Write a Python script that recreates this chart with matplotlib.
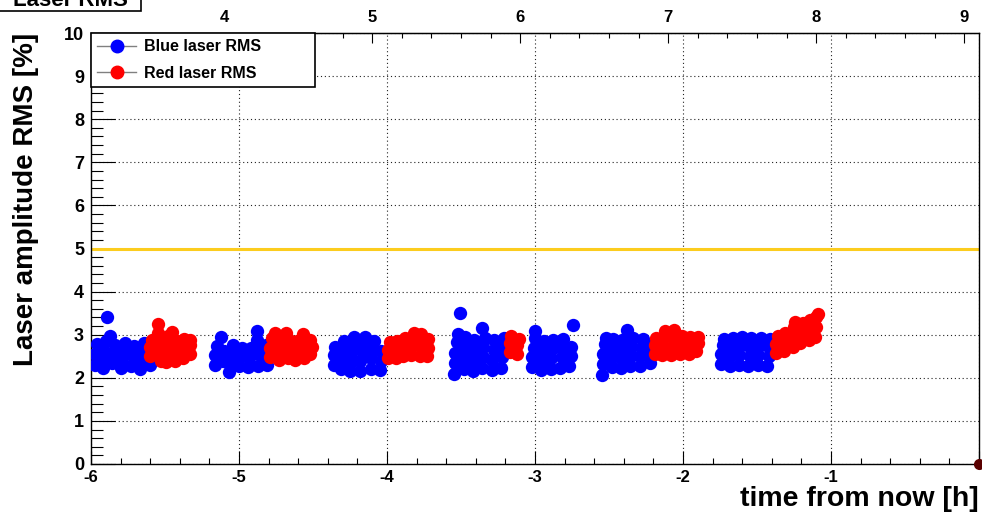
import matplotlib
matplotlib.use("Agg")
import matplotlib.pyplot as plt
from matplotlib.lines import Line2D
from matplotlib.patches import Rectangle
from matplotlib.ticker import MultipleLocator, FixedLocator, FuncFormatter

plt.rcParams['font.family'] = ['Liberation Sans', 'DejaVu Sans']
plt.rcParams['font.weight'] = 'bold'

# time from now [h] and amplitude RMS [%], one line per run
blue_t = [-5.97, -5.97, -5.96, -5.92, -5.91, -5.92, -5.90, -5.89, -5.87, -5.86, -5.85, -5.84, -5.80,
          -5.79, -5.78, -5.77, -5.73, -5.72, -5.71, -5.67, -5.66, -5.65, -5.64, -5.60, -5.60, -5.61,
          -5.16, -5.16, -5.15, -5.12, -5.11, -5.10, -5.07, -5.06, -5.05, -5.04, -5.00, -4.99,
          -4.98, -4.94, -4.93, -4.92, -4.88, -4.88, -4.87, -4.86, -4.86, -4.81, -4.81, -4.82,
          -4.36, -4.36, -4.35, -4.31, -4.30, -4.30, -4.29, -4.25, -4.24, -4.24, -4.23, -4.22,
          -4.18, -4.18, -4.17, -4.16, -4.15, -4.11, -4.11, -4.10, -4.09, -4.05, -4.04, -4.04,
          -3.55, -3.54, -3.54, -3.53, -3.52, -3.51, -3.48, -3.48, -3.47, -3.47, -3.42, -3.42, -3.41,
          -3.41, -3.36, -3.36, -3.35, -3.35, -3.34, -3.29, -3.29, -3.28, -3.28, -3.23, -3.22, -3.22, -3.21,
          -3.02, -3.02, -3.01, -3.00, -3.00, -2.96, -2.95, -2.95, -2.94, -2.89, -2.89,
          -2.88, -2.88, -2.83, -2.82, -2.82, -2.81, -2.77, -2.76, -2.76, -2.74,
          -2.55, -2.54, -2.54, -2.53, -2.52, -2.48, -2.48, -2.47, -2.47, -2.42, -2.42, -2.41, -2.41,
          -2.38, -2.36, -2.35, -2.35, -2.34, -2.29, -2.29, -2.28, -2.27, -2.22, -2.22, -2.21,
          -1.74, -1.74, -1.73, -1.72, -1.68, -1.68, -1.67, -1.66, -1.62, -1.62, -1.61, -1.60,
          -1.56, -1.55, -1.55, -1.54, -1.49, -1.49, -1.48, -1.47, -1.43, -1.42, -1.42, -1.41]
blue_rms = [2.30, 2.55, 2.78, 2.22, 2.45, 2.66, 2.85, 3.40, 2.98, 2.35, 2.58, 2.76, 2.22,
            2.47, 2.68, 2.80, 2.28, 2.52, 2.74, 2.20, 2.42, 2.62, 2.80, 2.30, 2.52, 2.80,
            2.30, 2.52, 2.74, 2.95, 2.40, 2.62, 2.14, 2.35, 2.58, 2.75, 2.28, 2.50,
            2.70, 2.25, 2.46, 2.68, 3.08, 2.88, 2.28, 2.52, 2.70, 2.30, 2.55, 2.75,
            2.30, 2.52, 2.72, 2.20, 2.42, 2.65, 2.85, 2.15, 2.36, 2.58, 2.78, 2.94,
            2.15, 2.40, 2.62, 2.82, 2.95, 2.20, 2.45, 2.68, 2.86, 2.18, 2.40, 2.62,
            2.08, 2.35, 2.58, 2.82, 3.02, 3.50, 2.20, 2.45, 2.70, 2.95, 2.15, 2.40, 2.62,
            2.88, 3.15, 2.22, 2.48, 2.72, 2.92, 2.18, 2.42, 2.65, 2.88, 2.22, 2.48, 2.72, 2.92,
            2.25, 2.48, 2.70, 2.92, 3.08, 2.18, 2.40, 2.62, 2.85, 2.20, 2.45,
            2.68, 2.88, 2.22, 2.48, 2.70, 2.90, 2.28, 2.50, 2.72, 3.22,
            2.06, 2.32, 2.55, 2.78, 2.92, 2.25, 2.48, 2.70, 2.90, 2.22, 2.45, 2.68, 2.88,
            3.10, 2.28, 2.50, 2.72, 2.92, 2.28, 2.50, 2.72, 2.90, 2.35, 2.55, 2.75,
            2.32, 2.55, 2.75, 2.90, 2.28, 2.50, 2.72, 2.92, 2.30, 2.52, 2.75, 2.95,
            2.28, 2.50, 2.72, 2.92, 2.30, 2.52, 2.75, 2.92, 2.28, 2.50, 2.72, 2.90]

red_t = [-5.60, -5.60, -5.59, -5.55, -5.55, -5.54, -5.54, -5.53, -5.49, -5.49, -5.48,
         -5.48, -5.45, -5.43, -5.43, -5.42, -5.38, -5.38, -5.37, -5.33, -5.33, -5.33,
         -4.79, -4.79, -4.78, -4.76, -4.73, -4.73, -4.72, -4.68, -4.67, -4.67,
         -4.66, -4.62, -4.61, -4.61, -4.57, -4.56, -4.56, -4.52, -4.51, -4.52,
         -3.99, -3.99, -3.98, -3.94, -3.94, -3.93, -3.89, -3.88, -3.88, -3.84,
         -3.83, -3.82, -3.82, -3.78, -3.77, -3.77, -3.73, -3.72, -3.72,
         -3.17, -3.17, -3.16, -3.12, -3.12, -3.11,
         -2.19, -2.19, -2.18, -2.14, -2.13, -2.13, -2.12, -2.08, -2.07, -2.07,
         -2.06, -2.02, -2.01, -2.01, -1.96, -1.96, -1.95, -1.91, -1.90, -1.90,
         -1.37, -1.37, -1.36, -1.32, -1.31, -1.31, -1.26, -1.26, -1.25, -1.24,
         -1.21, -1.20, -1.19, -1.15, -1.15, -1.14, -1.11, -1.10, -1.10, -1.09]
red_rms = [2.50, 2.72, 2.88, 3.25, 3.05, 2.85, 2.62, 2.40, 2.36, 2.58, 2.80,
           2.98, 3.07, 2.38, 2.62, 2.85, 2.45, 2.68, 2.90, 2.55, 2.75, 2.88,
           2.48, 2.70, 2.92, 3.04, 2.42, 2.62, 2.85, 3.05, 2.45, 2.68,
           2.88, 2.42, 2.62, 2.85, 3.02, 2.45, 2.70, 2.55, 2.72, 2.88,
           2.45, 2.65, 2.82, 2.45, 2.65, 2.85, 2.50, 2.70, 2.92, 2.52,
           2.75, 3.05, 2.92, 2.50, 2.72, 3.02, 2.50, 2.70, 2.90,
           2.60, 2.80, 2.97, 2.55, 2.75, 2.90,
           2.55, 2.75, 2.92, 2.52, 2.72, 2.95, 3.08, 2.52, 2.72, 2.92,
           3.10, 2.55, 2.75, 2.98, 2.55, 2.75, 2.95, 2.62, 2.80, 2.95,
           2.58, 2.78, 2.98, 2.62, 2.82, 3.05, 2.72, 2.95, 3.18, 3.30,
           2.80, 3.02, 3.28, 2.88, 3.10, 3.35, 2.95, 3.18, 3.42, 3.48]

now_t = [0.0]
now_rms = [0.0]
threshold = 5.0
clock_now = 9.1   # top axis: hour of day
x_ticks = [-6, -5, -4, -3, -2, -1, 0]
y_ticks = list(range(0, 11))

fig = plt.figure(figsize=(9.82, 5.12), dpi=100)
ax = fig.add_axes([91/982, 1 - 464/512, (979 - 91)/982, (464 - 33)/512])

ax.grid(True, which='major', color='#222222', linestyle=(0, (1, 2.5)), linewidth=0.8)
ax.axhline(threshold, color='#fccc1e', linewidth=2.2, zorder=2)

ax.plot(blue_t, blue_rms, 'o', color='blue', ms=9.6, mew=0, zorder=3)
ax.plot(red_t, red_rms, 'o', color='red', ms=9.6, mew=0, zorder=4)
ax.plot(now_t, now_rms, 'o', color='#5a0000', ms=8, mew=0, zorder=5, clip_on=False)

ax.set_xlim(-6, 0)
ax.set_ylim(0, 10)
ax.xaxis.set_major_locator(FixedLocator(x_ticks))
ax.xaxis.set_major_formatter(FuncFormatter(lambda v, p: '' if v == 0 else '%d' % v))
ax.xaxis.set_minor_locator(MultipleLocator(0.2))
ax.yaxis.set_major_locator(FixedLocator(y_ticks))
ax.yaxis.set_minor_locator(MultipleLocator(0.2))

ax.tick_params(axis='x', which='major', direction='in', length=9.5, width=0.8, labelsize=12, pad=4, top=False)
ax.tick_params(axis='x', which='minor', direction='in', length=4.5, width=0.8, top=False)
ax.tick_params(axis='y', which='major', direction='in', length=17, width=0.8, labelsize=13, pad=5, right=False)
ax.tick_params(axis='y', which='minor', direction='in', length=8.5, width=0.8, right=False)
for s in ax.spines.values():
    s.set_linewidth(1.0)

top = ax.secondary_xaxis('top', functions=(lambda x: x + clock_now, lambda x: x - clock_now))
top.xaxis.set_major_locator(MultipleLocator(1))
top.xaxis.set_minor_locator(MultipleLocator(0.2))
top.tick_params(which='major', direction='in', length=7, width=0.8, labelsize=12, pad=6)
top.tick_params(which='minor', direction='in', length=3.5, width=0.8)

ax.set_ylabel('Laser amplitude RMS [%]', fontsize=20, fontweight='bold', loc='top')
ax.yaxis.set_label_coords(-0.059, 1.0)
ax.set_xlabel('time from now [h]', fontsize=20.5, fontweight='bold', loc='right')
ax.xaxis.set_label_coords(1.0, -0.05)

handles = [Line2D([0], [0], color='gray', lw=1, marker='o', ms=9, mfc='blue', mec='blue'),
           Line2D([0], [0], color='gray', lw=1, marker='o', ms=9, mfc='red', mec='red')]
leg = ax.legend(handles, ['Blue laser RMS', 'Red laser RMS'], loc='upper left',
                bbox_to_anchor=(0, 1, (315 - 91)/888, 0), mode='expand', borderaxespad=0,
                fancybox=False, framealpha=1, edgecolor='black', prop={'size': 11.5, 'weight': 'bold'},
                handlelength=2.4, handletextpad=0.5, labelspacing=0.7, borderpad=0.4)
leg.get_frame().set_linewidth(1.2)

fig.add_artist(Rectangle((-0.01, 1 - 11/512), 151/982, 0.1, transform=fig.transFigure,
                         facecolor='white', edgecolor='black', linewidth=1.2))
fig.text(70/982, 1 - 6/512, 'Laser RMS', ha='center', va='baseline', fontsize=16, fontweight='bold')

fig.savefig('out.png', dpi=100)
